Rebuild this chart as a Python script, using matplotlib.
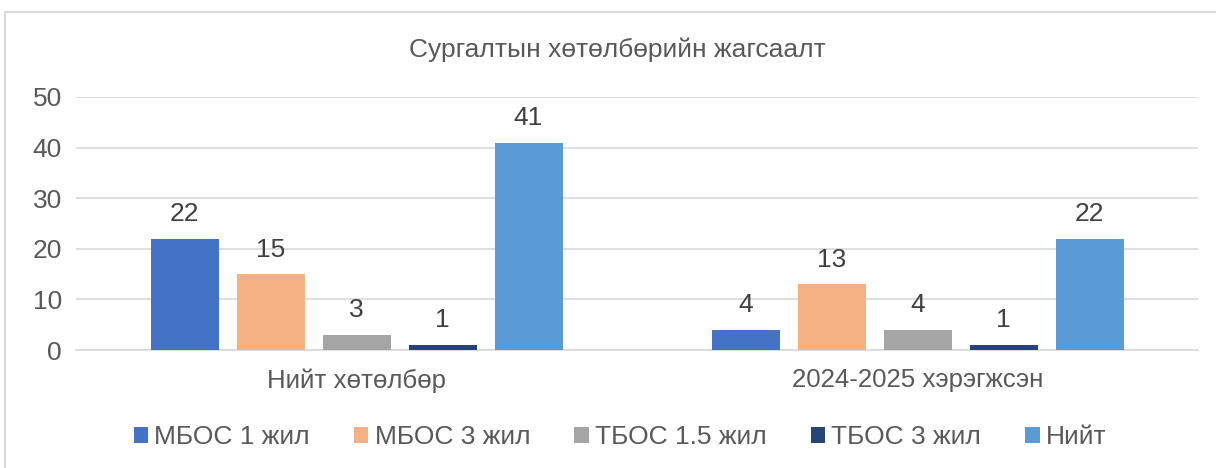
import matplotlib.pyplot as plt
import matplotlib.patches as patches
import numpy as np

plt.rcParams['font.family'] = ['Liberation Sans', 'DejaVu Sans']

categories = ["Нийт хөтөлбөр", "2024-2025 хэрэгжсэн"]
series_names = ["МБОС 1 жил", "МБОС 3 жил", "ТБОС 1.5 жил", "ТБОС 3 жил", "Нийт"]
values = [
    [22, 4],
    [15, 13],
    [3, 4],
    [1, 1],
    [41, 22],
]
colors = ["#4472C4", "#F4B183", "#A5A5A5", "#264478", "#5B9BD5"]
yticks = [0, 10, 20, 30, 40, 50]

text_color = "#595959"
W, H = 1216, 468
fig = plt.figure(figsize=(W / 100, H / 100), dpi=100)

# chart border (cropped on right and bottom)
fig.add_artist(patches.Rectangle((5 / W, -0.1), 1.2, 1 - 12 / H + 0.1,
                                 transform=fig.transFigure, fill=False,
                                 edgecolor="#D9D9D9", linewidth=1.5))

ax = fig.add_axes([76 / W, 1 - 350 / H, (1198 - 76) / W, (350 - 97) / H])

x = np.arange(len(categories))
bw = 68 / 561
step = 86 / 561
for i, (name, vals, c) in enumerate(zip(series_names, values, colors)):
    pos = x + (i - 2) * step
    bars = ax.bar(pos, vals, width=bw, color=c, label=name, zorder=3)
    for b, v in zip(bars, vals):
        ax.annotate(str(v), (b.get_x() + b.get_width() / 2, v),
                    xytext=(0, 9), textcoords="offset points", ha="center",
                    va="bottom", fontsize=19, color="#404040")

ax.set_xlim(-0.5, 1.5)
ax.set_ylim(0, 50)
ax.set_yticks(yticks)
ax.set_yticklabels([str(t) for t in yticks], fontsize=19, color=text_color)
ax.set_xticks(x)
ax.set_xticklabels(categories, fontsize=18.6, color=text_color)
ax.tick_params(axis="both", length=0)
ax.tick_params(axis="y", pad=10)
ax.tick_params(axis="x", pad=13)
ax.grid(axis="y", color="#D9D9D9", linewidth=1.2, zorder=0)
for s in ["top", "right", "left"]:
    ax.spines[s].set_visible(False)
ax.spines["bottom"].set_color("#D9D9D9")
ax.spines["bottom"].set_linewidth(1.2)

fig.text(617 / W, 1 - 50 / H, "Сургалтын хөтөлбөрийн жагсаалт", ha="center",
         va="center", fontsize=19, color=text_color)

fig.legend(loc="center", bbox_to_anchor=(620 / W, 1 - 437 / H), ncol=5,
           frameon=False, fontsize=19, handlelength=0.55, handleheight=0.55,
           handletextpad=0.23, columnspacing=1.67, labelcolor=text_color,
           borderpad=0, borderaxespad=0)

fig.savefig("out.png", dpi=100)
